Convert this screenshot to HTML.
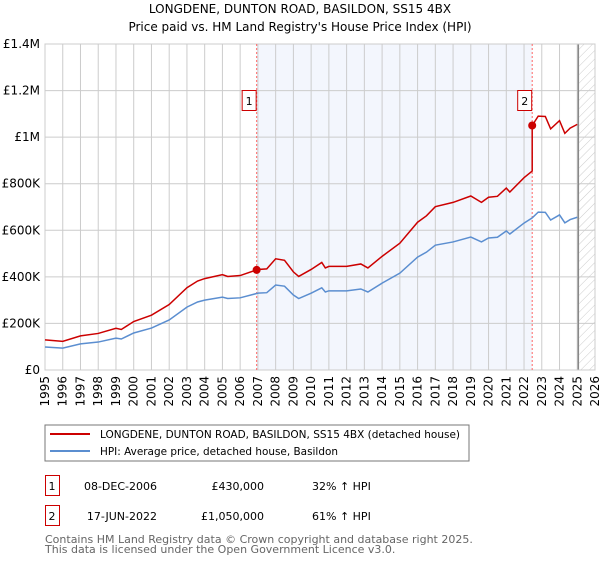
<!DOCTYPE html>
<html><head><meta charset="utf-8"><style>
body{margin:0;background:#fff;width:600px;height:560px;overflow:hidden;font-family:"DejaVu Sans","Liberation Sans",sans-serif}
svg text{font-family:"DejaVu Sans","Liberation Sans",sans-serif}
</style></head><body>
<svg id="c" width="600" height="560" xmlns="http://www.w3.org/2000/svg">
<defs><pattern id="hatch" width="6" height="6" patternUnits="userSpaceOnUse" patternTransform="rotate(45)"><line x1="0" y1="0" x2="0" y2="6" stroke="#ccc" stroke-width="1"/></pattern></defs>
<text x="300" y="13" text-anchor="middle" font-size="12" fill="#000">LONGDENE, DUNTON ROAD, BASILDON, SS15 4BX</text>
<text x="300" y="31" text-anchor="middle" font-size="12" fill="#000">Price paid vs. HM Land Registry's House Price Index (HPI)</text>
<g id="plot"></g>
<rect x="45" y="425" width="424" height="36" fill="#fff" stroke="#777"/>
<line x1="50" y1="434" x2="90" y2="434" stroke="#c00" stroke-width="2"/>
<text x="100" y="438" font-size="10.6" textLength="360" lengthAdjust="spacingAndGlyphs">LONGDENE, DUNTON ROAD, BASILDON, SS15 4BX (detached house)</text>
<line x1="50" y1="451" x2="90" y2="451" stroke="#5b8ed0" stroke-width="2"/>
<text x="100" y="455" font-size="10.6" textLength="238" lengthAdjust="spacingAndGlyphs">HPI: Average price, detached house, Basildon</text>
<g>
<rect x="45.5" y="475.5" width="14" height="20" fill="#fff" stroke="#c00"/>
<text x="52" y="490" text-anchor="middle" font-size="11">1</text>
<text x="157" y="490" text-anchor="end" font-size="11">08-DEC-2006</text>
<text x="264" y="490" text-anchor="end" font-size="11">£430,000</text>
<text x="312" y="490" font-size="11">32% ↑ HPI</text></g>
<g>
<rect x="45.5" y="505.5" width="14" height="20" fill="#fff" stroke="#c00"/>
<text x="52" y="520" text-anchor="middle" font-size="11">2</text>
<text x="157" y="520" text-anchor="end" font-size="11">17-JUN-2022</text>
<text x="264" y="520" text-anchor="end" font-size="11">£1,050,000</text>
<text x="312" y="520" font-size="11">61% ↑ HPI</text></g>
<text x="45" y="543" font-size="11" fill="#666">Contains HM Land Registry data © Crown copyright and database right 2025.</text>
<text x="45" y="553" font-size="11" fill="#666">This data is licensed under the Open Government Licence v3.0.</text>
</svg>
<script>
const hpiYears=[1995,1996,1997,1998,1999,1999.3,2000,2001,2002,2003,2003.6,2004,2005,2005.3,2006,2007,2007.5,2008,2008.5,2009,2009.3,2010,2010.6,2010.8,2011,2012,2012.8,2013.2,2014,2015,2016,2016.5,2017,2018,2019,2019.6,2020,2020.5,2021,2021.2,2022,2022.46,2022.8,2023.2,2023.5,2024,2024.3,2024.6,2025];
const hpiValues=[99,94,112,120,137,133,159,180,215,270,292,300,313,307,310,330,332,365,360,322,307,330,353,335,340,340,348,335,373,416,485,506,536,550,571,550,567,570,597,584,631,653,678,677,644,666,632,646,656];
const saleYears=[2006.93,2022.46];
const salePrices=[430,1050];
const saleLabels=["1","2"];
const yTicks=[0,200,400,600,800,1000,1200,1400];
const yTickLabels=["£0","£200K","£400K","£600K","£800K","£1M","£1.2M","£1.4M"];
const xTicks=[1995,1996,1997,1998,1999,2000,2001,2002,2003,2004,2005,2006,2007,2008,2009,2010,2011,2012,2013,2014,2015,2016,2017,2018,2019,2020,2021,2022,2023,2024,2025,2026];
const dataEnd=2025.06;

const X0=45,X1=595,Y0=370,Y1=44;
const xS=y=>X0+(y-1995)*(X1-X0)/31;
const yS=v=>Y0-v*(Y0-Y1)/1400;
const NS="http://www.w3.org/2000/svg";
const g=document.getElementById('plot');
function mk(t,a){const e=document.createElementNS(NS,t);for(const k in a)e.setAttribute(k,a[k]);g.appendChild(e);return e;}
function hpiAt(y){for(let i=0;i<hpiYears.length-1;i++){if(y<=hpiYears[i+1]){const t=(y-hpiYears[i])/(hpiYears[i+1]-hpiYears[i]);return hpiValues[i]+t*(hpiValues[i+1]-hpiValues[i]);}}return hpiValues[hpiValues.length-1];}

let e=mk('rect',{x:xS(saleYears[0]),y:Y1,width:xS(saleYears[1])-xS(saleYears[0]),height:Y0-Y1,fill:'#f3f6fd'});


e=mk('rect',{x:xS(dataEnd),y:Y1,width:X1-xS(dataEnd),height:Y0-Y1,fill:'url(#hatch)'});


yTicks.forEach((v,i)=>{
  e=mk('line',{x1:X0,x2:X1,y1:yS(v),y2:yS(v),stroke:'#ccc'});
  
  
  e=mk('text',{x:X0-5,y:yS(v)+4,'text-anchor':'end','font-size':'12'});e.textContent=yTickLabels[i];
  
  
});
xTicks.forEach(y=>{
  e=mk('line',{x1:xS(y),x2:xS(y),y1:Y1,y2:Y0,stroke:'#ccc'});
  
  
  e=mk('text',{x:0,y:0,'text-anchor':'end','font-size':'12',transform:`translate(${xS(y)+4},${Y0+6}) rotate(-90)`});e.textContent=y;
  
  
});
e=mk('line',{x1:xS(dataEnd),x2:xS(dataEnd),y1:Y1,y2:Y0,stroke:'#888','stroke-width':1.5});


e=mk('rect',{x:X0,y:Y1,width:X1-X0,height:Y0-Y1,fill:'none',stroke:'#ccc'});


saleYears.forEach((y,i)=>{
  e=mk('line',{x1:xS(y),x2:xS(y),y1:Y1,y2:Y0,stroke:'#f66','stroke-dasharray':'2,2'});
  
  
});
e=mk('polyline',{points:hpiYears.map((y,i)=>xS(y)+','+yS(hpiValues[i])).join(' '),fill:'none',stroke:'#5b8ed0','stroke-width':1.5});


const r0=salePrices[0]/hpiAt(saleYears[0]),r1=salePrices[1]/hpiAt(saleYears[1]);
let pts=[];
hpiYears.forEach((y,i)=>{if(y<saleYears[1])pts.push([y,hpiValues[i]*r0]);});
pts.push([saleYears[1],hpiAt(saleYears[1])*r0]);
pts.push([saleYears[1],salePrices[1]]);
hpiYears.forEach((y,i)=>{if(y>saleYears[1])pts.push([y,hpiValues[i]*r1]);});
e=mk('polyline',{points:pts.map(p=>xS(p[0])+','+yS(p[1])).join(' '),fill:'none',stroke:'#c00','stroke-width':1.5});


saleYears.forEach((y,i)=>{
  e=mk('circle',{cx:xS(y),cy:yS(salePrices[i]),r:4,fill:'#c00'});
  
  
  e=mk('rect',{x:xS(y)-14.5,y:90.5,width:14,height:20,fill:'#fff',stroke:'#c00'});
  
  
  e=mk('text',{x:xS(y)-7.5,y:105,'text-anchor':'middle','font-size':'11'});e.textContent=saleLabels[i];
  
  
});
</script>
</body></html>
